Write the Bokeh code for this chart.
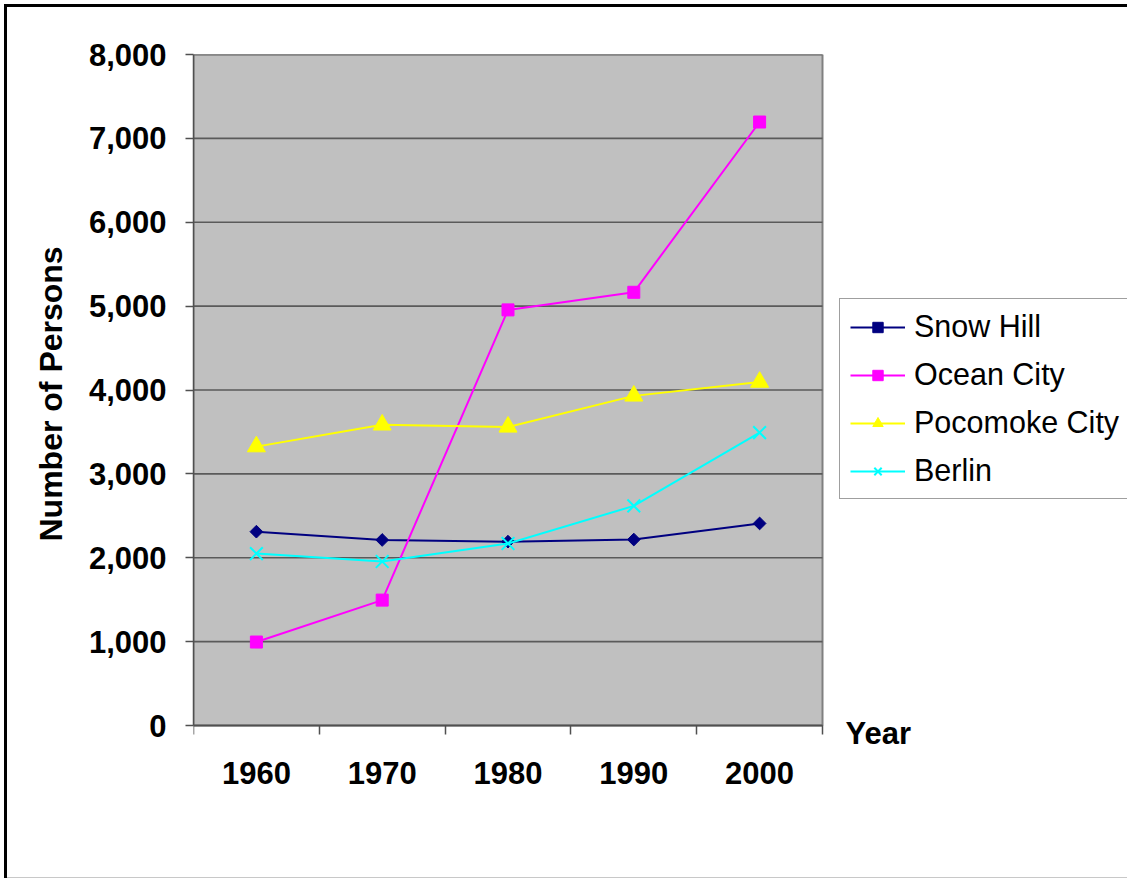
import math
from bokeh.plotting import figure
from bokeh.models import Range1d, FixedTicker, NumeralTickFormatter, Label, BoxAnnotation, Title
from bokeh.embed import file_html
from bokeh.resources import INLINE

years = ["1960", "1970", "1980", "1990", "2000"]
snow_hill = [2311, 2212, 2192, 2217, 2409]
ocean_city = [995, 1495, 4955, 5165, 7195]
pocomoke_city = [3325, 3585, 3560, 3930, 4095]
berlin = [2050, 1955, 2170, 2618, 3492]
y_ticks = [0, 1000, 2000, 3000, 4000, 5000, 6000, 7000, 8000]

FONT = "Liberation Sans"
FS = "31px"
W, H = 1127, 878
LEFT, TOP, BOTTOM_BORDER = 193, 54, 2            # frame placement (px)
AREA_W, AREA_H = 629, 671                        # grey plot area (px)
frame_w = W - LEFT
frame_h = H - TOP - BOTTOM_BORDER
frame_bottom = H - BOTTOM_BORDER
zero_px = TOP + AREA_H
n = len(years)
ymax = y_ticks[-1]
x_end = n * frame_w / AREA_W
y_start = -(frame_h - AREA_H) * ymax / AREA_H
px_x = n / AREA_W          # data units per px
px_y = ymax / AREA_H

xs = [i + 0.5 for i in range(n)]

p = figure(width=W, height=H, output_backend="svg", toolbar_location=None,
           x_range=Range1d(0, x_end), y_range=Range1d(y_start, ymax),
           min_border_left=LEFT, min_border_top=TOP, min_border_right=0,
           min_border_bottom=BOTTOM_BORDER)
p.styles = {"background-color": "white",
            "box-shadow": "inset 4px 4px 0 0 white, inset 7px 7px 0 0 black, inset 0 -1px 0 0 #c8c8c8"}
p.background_fill_alpha = 0
p.border_fill_alpha = 0
p.outline_line_color = None
p.xgrid.visible = False
p.ygrid.visible = False

# grey plot area
p.add_layout(BoxAnnotation(left=0, right=n, bottom=0, top=ymax, fill_color="#C0C0C0",
                           fill_alpha=1, line_color="#808080", line_alpha=1,
                           line_width=2, level="underlay"))
# horizontal gridlines
p.segment(x0=[0] * len(y_ticks), x1=[n] * len(y_ticks), y0=y_ticks, y1=y_ticks,
          line_color="#5a5a5a", line_width=1.7)

# y axis
p.yaxis.ticker = FixedTicker(ticks=y_ticks)
p.yaxis.bounds = (0, ymax)
p.yaxis.formatter = NumeralTickFormatter(format="0,0")
p.yaxis.major_label_text_font = FONT
p.yaxis.major_label_text_font_style = "bold"
p.yaxis.major_label_text_font_size = FS
p.yaxis.major_label_text_color = "black"
p.yaxis.major_label_standoff = 19
p.yaxis.major_tick_out = 8
p.yaxis.major_tick_in = 0
p.yaxis.minor_tick_line_color = None
p.yaxis.axis_line_color = "#505050"
p.yaxis.axis_line_width = 1.5
p.yaxis.major_tick_line_color = "#505050"
p.yaxis.major_tick_line_width = 1.5

# y axis title, placed along the grey area
p.add_layout(Title(text="Number of Persons", align="left", offset=frame_bottom - 541,
                   text_font=FONT, text_font_style="bold", text_font_size="32px",
                   text_color="black", standoff=34), "left")

# x axis at y = 0: labels at category centres, tick marks at boundaries
p.xaxis.fixed_location = 0
p.xaxis.bounds = (0, n)
p.xaxis.ticker = FixedTicker(ticks=xs, minor_ticks=list(range(n + 1)))
p.xaxis.major_label_overrides = {x: y for x, y in zip(xs, years)}
p.xaxis.major_tick_out = 0
p.xaxis.major_tick_in = 0
p.xaxis.minor_tick_out = 9
p.xaxis.minor_tick_in = 0
p.xaxis.minor_tick_line_color = "#505050"
p.xaxis.minor_tick_line_width = 1.5
p.xaxis.axis_line_color = "#505050"
p.xaxis.axis_line_width = 1.5
p.xaxis.major_label_text_font = FONT
p.xaxis.major_label_text_font_style = "bold"
p.xaxis.major_label_text_font_size = FS
p.xaxis.major_label_text_color = "black"
p.xaxis.major_label_standoff = 27

series = [
    ("Snow Hill", snow_hill, "#000080", "square", 9, math.pi / 4),
    ("Ocean City", ocean_city, "#FF00FF", "square", 12, 0),
    ("Pocomoke City", pocomoke_city, "#FFFF00", "triangle", 18, 0),
    ("Berlin", berlin, "#00FFFF", "x", 18, 0),
]
for name, vals, color, marker, size, ang in series:
    p.line(xs, vals, line_color=color, line_width=2, legend_label=name)
    p.scatter(xs, vals, marker=marker, size=size, angle=ang, fill_color=color,
              line_color=color, line_width=2 if marker == "x" else 1,
              legend_label=name)

leg = p.legend[0]
leg.location = (839 - LEFT, frame_bottom - 499)
leg.label_text_font = FONT
leg.label_text_font_size = "30.5px"
leg.label_text_color = "black"
leg.glyph_width = 55
leg.glyph_height = 26
leg.label_height = 26
leg.label_standoff = 9
leg.spacing = 13
leg.padding = 10
leg.margin = 0
leg.border_line_color = "#404040"
leg.border_line_width = 1
leg.background_fill_color = "white"
leg.background_fill_alpha = 1.0

p.add_layout(Label(x=(845 - LEFT) * px_x, y=-(733 - zero_px) * px_y, text="Year",
                   text_font=FONT, text_font_style="bold", text_color="black",
                   text_font_size=FS, text_baseline="alphabetic", text_align="left"))

open("out.html", "w").write(file_html(p, INLINE))
